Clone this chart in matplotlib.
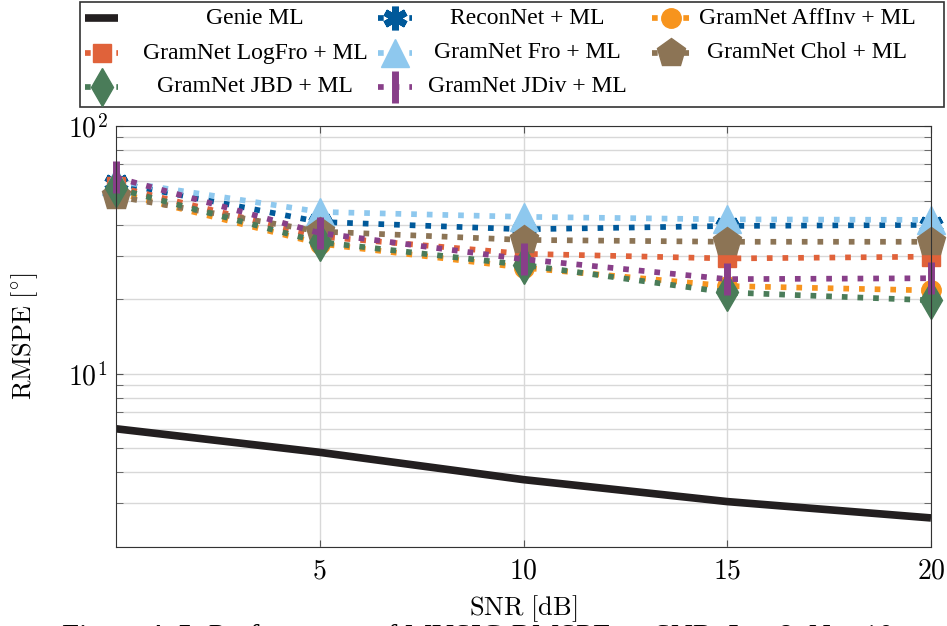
import matplotlib.pyplot as plt
from matplotlib.lines import Line2D
from matplotlib.patches import Rectangle
from matplotlib.ticker import FixedLocator, FixedFormatter, NullFormatter

plt.rcParams['mathtext.fontset'] = 'cm'

snr = [0, 5, 10, 15, 20]

genie_ml = [6.0, 4.82, 3.74, 3.05, 2.62]
reconnet = [59, 41, 38.3, 39.5, 39.9]
affinv = [54, 33.5, 26.8, 22.6, 21.7]
logfro = [57, 35.8, 30.5, 29.2, 29.7]
fro = [60, 45, 43, 42, 41.8]
chol = [52, 37.5, 34.7, 34.1, 34.1]
jbd = [56, 34, 27.5, 21.3, 19.8]
jdiv = [62, 37, 29, 24.1, 24.3]

labels = ['Genie ML', 'ReconNet + ML', 'GramNet AffInv + ML',
          'GramNet LogFro + ML', 'GramNet Fro + ML', 'GramNet Chol + ML',
          'GramNet JBD + ML', 'GramNet JDiv + ML']

# (values, colour, marker, marker size, marker edge width)
series = [
    (reconnet, '#00599a', (6, 2, 0), 17, 5),
    (affinv, '#f7941d', 'o', 14, 1),
    (logfro, '#e0623a', 's', 13, 1),
    (fro, '#8ec8ee', '^', 20, 1),
    (chol, '#8c7455', 'p', 21, 1),
    (jbd, '#4a7c59', 'd', 19, 1),
    (jdiv, '#883f89', '|', 23, 5),
]

W, H = 947, 626
fig = plt.figure(figsize=(W / 100, H / 100), dpi=100)
ax = fig.add_axes([116/W, 1-547/H, (931-116)/W, (547-126)/H])

ax.plot(snr, genie_ml, color='#231f20', lw=5.5, solid_capstyle='butt')
for vals, col, mk, ms, mew in series:
    ax.plot(snr, vals, color=col, lw=4.1, linestyle=(0, (1, 1.75)),
            dash_capstyle='butt', marker=mk, ms=ms, mew=mew,
            mec=col, mfc=col, clip_on=False)

ax.set_yscale('log')
ax.set_xlim(0, 20)
ax.set_ylim(2, 100)
ax.set_xticks([5, 10, 15, 20])
ax.set_xticklabels([r'$5$', r'$10$', r'$15$', r'$20$'])
ax.yaxis.set_major_locator(FixedLocator([10, 100]))
ax.yaxis.set_major_formatter(FixedFormatter([r'$10^{1}$', r'$10^{2}$']))
ax.yaxis.set_minor_formatter(NullFormatter())
ax.grid(True, which='both', color='#d8d8d8', lw=1)
ax.tick_params(which='both', direction='in', top=True, right=True,
               labelsize=20, length=5, color='#555555')
ax.tick_params(axis='x', pad=7)
ax.tick_params(axis='y', pad=6)
for s in ax.spines.values():
    s.set_color('#333333')
ax.set_xlabel(r'$\mathrm{SNR\ [dB]}$', fontsize=19, labelpad=6)
ax.set_ylabel(r'$\mathrm{RMSPE\ [^{\circ}]}$', fontsize=19, labelpad=20)

# legend drawn by hand so the labels sit centred in their columns like pgfplots
fig.add_artist(Rectangle((80/W, 1-107/H), 864/W, 105/H, transform=fig.transFigure,
                         fill=False, ec='#333333', lw=1.2))
handle_x = [(85, 118), (378, 412), (652, 690)]
text_x = [255, 527, 807]
row_y = [18, 53, 87]
styles = [('#231f20', None, 0, 0)] + [(c, m, s, w) for _, c, m, s, w in series]
for i, lab in enumerate(labels):
    r, c = divmod(i, 3)
    x0, x1 = handle_x[c]
    y = 1 - row_y[r] / H
    col, mk, ms, mew = styles[i]
    if mk is None:
        fig.add_artist(Line2D([x0/W, x1/W], [y, y], transform=fig.transFigure,
                              color=col, lw=5.5, solid_capstyle='butt'))
    else:
        fig.add_artist(Line2D([x0/W, x1/W], [y, y], transform=fig.transFigure,
                              color=col, lw=4.1, linestyle=(0, (1, 1.75)),
                              dash_capstyle='butt'))
        fig.add_artist(Line2D([(x0+x1)/2/W], [y], transform=fig.transFigure,
                              linestyle='none', marker=mk, ms=ms, mew=mew,
                              mec=col, mfc=col))
    fig.text(text_x[c]/W, y, lab, family='Liberation Serif', fontsize=17,
             ha='center', va='center')

fig.text(62/W, 1-646/H, 'Figure A.5: Performance of MUSIC-RMSPE vs SNR, L = 8, N = 10',
         family='Liberation Serif', fontsize=22, va='baseline', ha='left')

fig.savefig('out.png', dpi=100)
